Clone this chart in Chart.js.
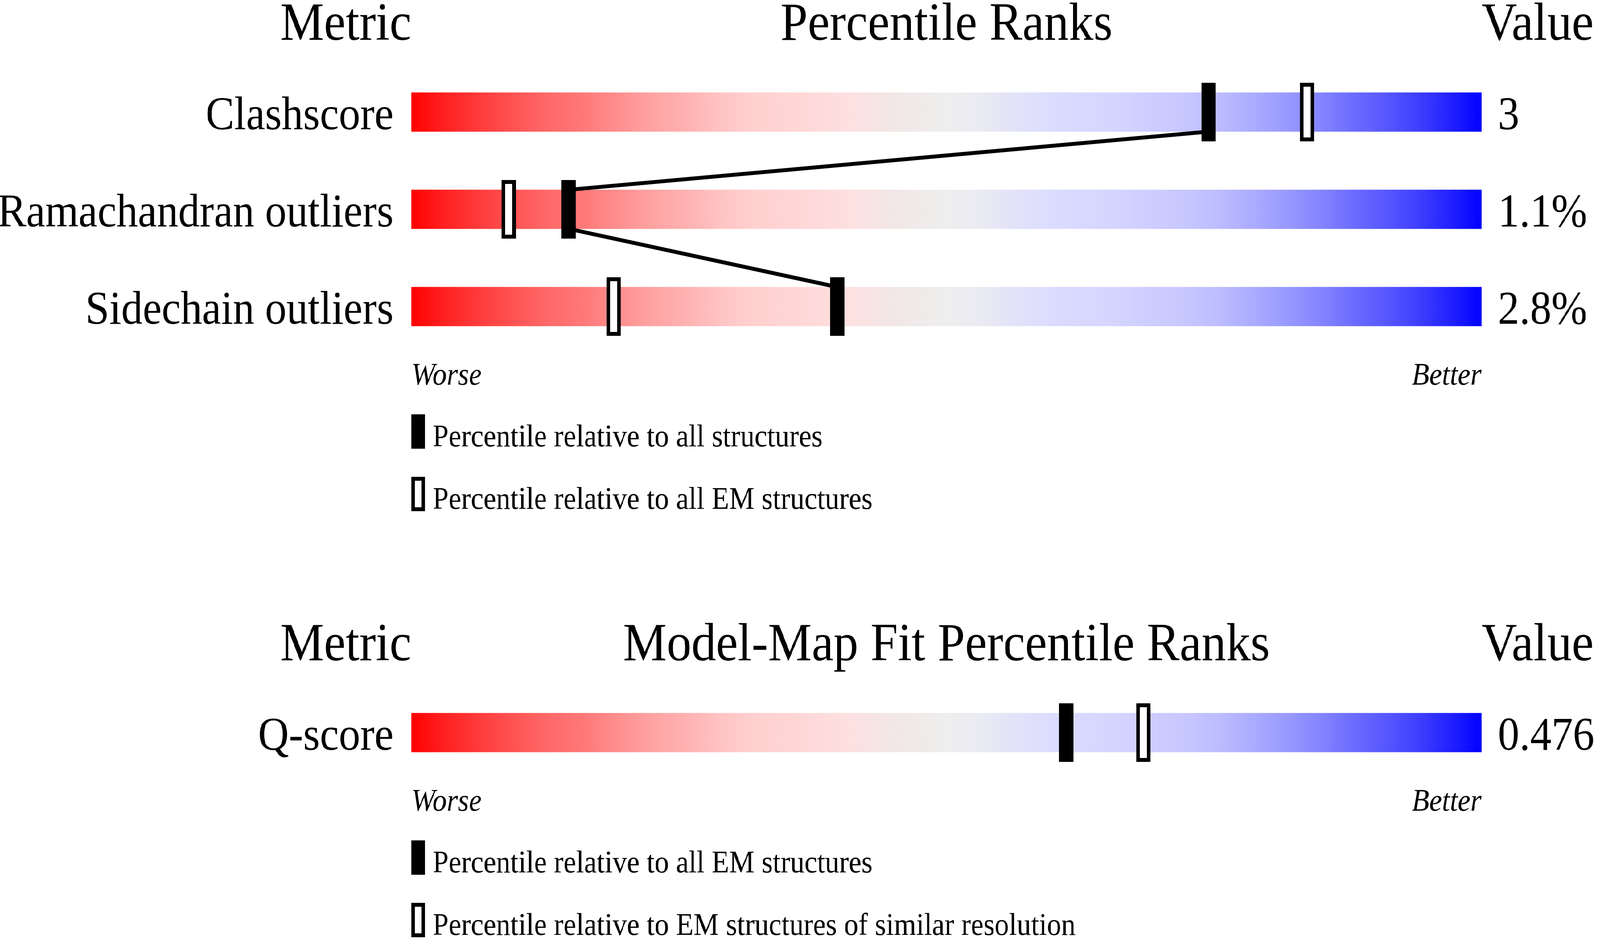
<!DOCTYPE html>
<html>
<head>
<meta charset="utf-8">
<script src="https://cdn.jsdelivr.net/npm/chart.js@4.4.1/dist/chart.umd.min.js"></script>
<style>
  html, body { margin: 0; padding: 0; background: #fff; overflow: hidden; }
  #page { width: 4485px; height: 2402px; position: relative; transform-origin: 0 0; }
  .panel { position: absolute; left: 0; width: 4485px; }
  #panel_geo { top: 0; height: 1400px; }
  #panel_fit { top: 1400px; height: 1002px; }
</style>
</head>
<body>
<div id="page">
  <div class="panel" id="panel_geo"><canvas id="chart_geo" width="4485" height="1400"></canvas></div>
  <div class="panel" id="panel_fit"><canvas id="chart_fit" width="4485" height="1002"></canvas></div>
</div>
<script>
// geometry sliders
const geoMetrics = ['Clashscore', 'Ramachandran outliers', 'Sidechain outliers'];
const geoValues = ['3', '1.1%', '2.8%'];
const geoPctAll = [74.5, 14.7, 39.8];   // filled marker
const geoPctEM = [83.7, 9.1, 18.9];     // open marker
const geoLegend = ['Percentile relative to all structures', 'Percentile relative to all EM structures'];

// model-map fit slider
const fitMetrics = ['Q-score'];
const fitValues = ['0.476'];
const fitPctAll = [61.2];
const fitPctRes = [68.4];
const fitLegend = ['Percentile relative to all EM structures', 'Percentile relative to EM structures of similar resolution'];

const ROW_PX = 249;   // distance between rows
const BAR_PX = 100;   // slider height
const LEFT_W = 1153, RIGHT_W = 332;
const SERIF = '"Liberation Serif", "Times New Roman", serif';

// worse -> better colour ramp
const RAMP = [
  [0, '#ff0000'], [0.03, '#ff2020'], [0.065, '#ff3c3c'], [0.1, '#ff5656'], [0.13, '#ff6a6a'],
  [0.16, '#ff7878'], [0.19, '#ff8c8c'], [0.22, '#ffa0a0'], [0.255, '#ffb0b0'], [0.29, '#ffc4c4'],
  [0.32, '#ffd0d0'], [0.36, '#ffd6d6'], [0.41, '#fde0e0'], [0.446, '#f3e6e6'], [0.5, '#eeeeee'],
  [0.53, '#ebebf3'], [0.56, '#e3e3f8'], [0.596, '#dcdcff'], [0.628, '#d8d8ff'], [0.66, '#d4d4ff'],
  [0.69, '#cdcdff'], [0.72, '#c8c8ff'], [0.755, '#bcbcff'], [0.787, '#ababff'], [0.82, '#9898ff'],
  [0.85, '#8484ff'], [0.88, '#6c6cff'], [0.915, '#5454ff'], [0.946, '#3a3aff'], [0.978, '#1a1aff'],
  [1, '#0000ff']
];

// the window may be narrower than the 4485px design, squeeze to fit
const page = document.getElementById('page');
page.style.transform = 'scale(' + (window.innerWidth / 4485) + ',' + (window.innerHeight / 2402) + ')';

function makeMarker(w, h, open) {
  const c = document.createElement('canvas');
  c.width = w; c.height = h;
  const g = c.getContext('2d');
  g.fillStyle = '#000';
  g.fillRect(0, 0, w, h);
  if (open) { g.fillStyle = '#fff'; g.fillRect(10, 10, w - 20, h - 20); }
  return c;
}
const markFilled = makeMarker(40, 150, false);
const markOpen = makeMarker(40, 150, true);
const keyFilled = makeMarker(38, 88, false);
const keyOpen = makeMarker(38, 88, true);

function sliderFill(context) {
  const chart = context.chart;
  const xs = chart.scales.x;
  if (!xs || !chart.chartArea) return '#eeeeee';
  const g = chart.ctx.createLinearGradient(xs.getPixelForValue(0), 0, xs.getPixelForValue(100), 0);
  RAMP.forEach(([p, c]) => g.addColorStop(p, c));
  return g;
}

// join filled markers: bottom of one slider to top of the next
function linkPoints(pct) {
  const h = BAR_PX / 2 / ROW_PX;
  const pts = [];
  pct.forEach((p, i) => {
    if (i > 0) pts.push({x: p, y: i - h});
    if (i < pct.length - 1) pts.push({x: p, y: i + h});
  });
  return pts;
}

const panelText = {
  id: 'panelText',
  afterDraw(chart, args, o) {
    const ctx = chart.ctx, a = chart.chartArea, ys = chart.scales.y;
    const barTop = ys.getPixelForValue(0) - BAR_PX / 2;
    const barBottom = ys.getPixelForValue(o.rows - 1) + BAR_PX / 2;
    ctx.save();
    ctx.fillStyle = '#000';
    ctx.textBaseline = 'alphabetic';
    ctx.font = '138px ' + SERIF;
    const hy = barTop - 135;
    ctx.textAlign = 'right'; ctx.fillText('Metric', a.left, hy);
    ctx.textAlign = 'center'; ctx.fillText(o.title, (a.left + a.right) / 2, hy);
    ctx.textAlign = 'left'; ctx.fillText('Value', a.right, hy);

    ctx.font = 'italic 80px ' + SERIF;
    const wy = barBottom + 150;
    ctx.textAlign = 'left'; ctx.fillText('Worse', a.left, wy);
    ctx.textAlign = 'right'; ctx.fillText('Better', a.right, wy);

    ctx.font = '80px ' + SERIF;
    ctx.textAlign = 'left';
    o.legend.forEach((txt, i) => {
      const by = barBottom + 308 + i * 160;
      ctx.drawImage(i ? keyOpen : keyFilled, a.left, by - 82);
      ctx.fillText(txt, a.left + 60, by);
    });
    ctx.restore();
  }
};

function rowAxis(labels, position, width, pad) {
  return {
    type: 'linear', position: position, offset: false,
    min: -0.5, max: labels.length - 0.5, reverse: true,
    grid: {display: false, drawTicks: false, offset: false}, border: {display: false},
    afterBuildTicks: ax => { ax.ticks = labels.map((l, i) => ({value: i})); },
    afterFit: ax => { ax.width = width; },
    ticks: {
      autoSkip: false, padding: pad, labelOffset: 12, color: '#000',
      font: {family: SERIF, size: 120},
      callback: v => labels[Math.round(v)]
    }
  };
}

function sliderChart(id, metrics, values, pctFilled, pctOpen, title, legend, padTop) {
  const n = metrics.length;
  const canvas = document.getElementById(id);
  const datasets = [
    { type: 'scatter', data: pctFilled.map((p, i) => ({x: p, y: i})),
      pointStyle: markFilled, pointRadius: 1, pointHoverRadius: 1, order: 1, clip: false },
    { type: 'scatter', data: pctOpen.map((p, i) => ({x: p, y: i})),
      pointStyle: markOpen, pointRadius: 1, pointHoverRadius: 1, order: 1, clip: false },
    { type: 'bar', indexAxis: 'y', data: metrics.map((m, i) => ({y: i, x: [0, 100]})),
      backgroundColor: sliderFill, borderWidth: 0, barThickness: BAR_PX, order: 3 }
  ];
  const link = linkPoints(pctFilled);
  if (link.length) {
    datasets.push({ type: 'line', data: link, borderColor: '#000', borderWidth: 10,
      pointRadius: 0, fill: false, tension: 0, order: 2, clip: false });
  }
  return new Chart(canvas, {
    type: 'bar',
    data: { datasets: datasets },
    plugins: [panelText],
    options: {
      indexAxis: 'y',
      responsive: false,
      devicePixelRatio: 1,
      animation: false,
      events: [],
      layout: { padding: { top: padTop, bottom: canvas.height - padTop - n * ROW_PX, left: 0, right: 0 } },
      scales: {
        x: { type: 'linear', min: 0, max: 100, display: false, offset: false, grid: {offset: false} },
        y: rowAxis(metrics, 'left', LEFT_W, 50),
        y2: rowAxis(values, 'right', RIGHT_W, 46)
      },
      plugins: {
        legend: { display: false },
        tooltip: { enabled: false },
        panelText: { title: title, legend: legend, rows: n }
      }
    }
  });
}

sliderChart('chart_geo', geoMetrics, geoValues, geoPctAll, geoPctEM, 'Percentile Ranks', geoLegend, 162.5);
sliderChart('chart_fit', fitMetrics, fitValues, fitPctAll, fitPctRes, 'Model-Map Fit Percentile Ranks', fitLegend, 351.5);
</script>
</body>
</html>
